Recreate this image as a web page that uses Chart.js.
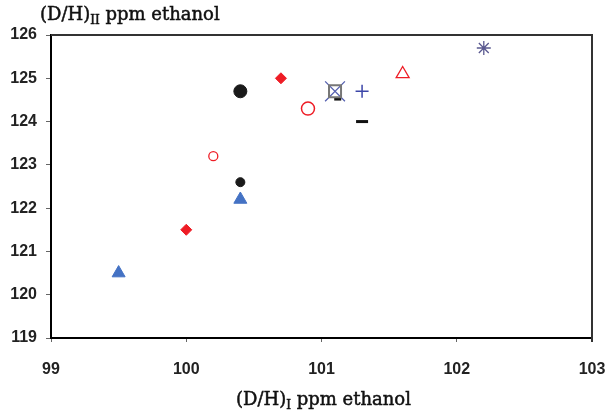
<!DOCTYPE html>
<html>
<head>
<meta charset="utf-8">
<script src="https://cdn.jsdelivr.net/npm/chart.js@4"></script>
<style>
  html, body { margin: 0; padding: 0; background: #fff; }
  #wrap { width: 611px; height: 418px; }
</style>
</head>
<body>
<div id="wrap"><canvas id="dhChart" width="611" height="418"></canvas></div>
<script>
// (D/H)I on x, (D/H)II on y -- one small pair of arrays per marker type
const blueTriX = [99.5, 100.4];
const blueTriY = [120.5, 122.2];
const redDiamondX = [100.0, 100.7];
const redDiamondY = [121.5, 125.0];
const blackDotSmallX = [100.4];
const blackDotSmallY = [122.6];
const blackDotBigX = [100.4];
const blackDotBigY = [124.7];
const redRingSmallX = [100.2];
const redRingSmallY = [123.2];
const redRingBigX = [100.9];
const redRingBigY = [124.3];
const squareX = [101.1];
const squareY = [124.7];
const xCrossX = [101.1];
const xCrossY = [124.7];
const dashSmallX = [101.12];
const dashSmallY = [124.52];
const plusX = [101.3];
const plusY = [124.7];
const dashX = [101.3];
const dashY = [124.0];
const redOpenTriX = [101.6];
const redOpenTriY = [125.1];
const starX = [102.2];
const starY = [125.7];

const xTicks = [99, 100, 101, 102, 103];
const yTicks = [119, 120, 121, 122, 123, 124, 125, 126];

function pts(xs, ys) {
  return xs.map((x, i) => ({ x: x, y: ys[i] }));
}

function series(xs, ys, style, radius, fill, stroke, bw) {
  return {
    data: pts(xs, ys),
    pointStyle: style,
    pointRadius: radius,
    pointHoverRadius: radius,
    backgroundColor: fill,
    borderColor: stroke,
    pointBorderWidth: bw,
    showLine: false,
    clip: false
  };
}

// axis titles with subscripts, and the top/right frame lines
const extras = {
  id: 'extras',
  afterDraw(chart) {
    const ctx = chart.ctx;
    const a = chart.chartArea;
    ctx.save();
    ctx.strokeStyle = '#333';
    ctx.lineWidth = 2;
    ctx.beginPath();
    ctx.moveTo(a.left, a.top);
    ctx.lineTo(a.right, a.top);
    ctx.lineTo(a.right, a.bottom + 4);
    ctx.stroke();

    ctx.fillStyle = '#111';
    ctx.strokeStyle = '#111';
    ctx.lineWidth = 0.5;
    ctx.textBaseline = 'alphabetic';
    const big = '18px "DejaVu Serif", serif';
    const small = '12px "DejaVu Serif", serif';

    function label(parts, x, y, center) {
      let w = 0;
      parts.forEach(p => { ctx.font = p[1] ? small : big; w += ctx.measureText(p[0]).width; });
      let cx = center ? x - w / 2 : x;
      parts.forEach(p => {
        ctx.font = p[1] ? small : big;
        ctx.fillText(p[0], cx, y + (p[1] ? 4 : 0));
        ctx.strokeText(p[0], cx, y + (p[1] ? 4 : 0));
        cx += ctx.measureText(p[0]).width;
      });
    }
    label([['(D/H)', false], ['II', true], [' ppm ethanol', false]], 40, 20, false);
    label([['(D/H)', false], ['I', true], [' ppm ethanol', false]], (a.left + a.right) / 2 + 2, a.bottom + 67, true);
    ctx.restore();
  }
};

const tickFont = { family: '"Liberation Sans", sans-serif', size: 16, weight: 'bold' };

new Chart(document.getElementById('dhChart'), {
  type: 'scatter',
  data: {
    datasets: [
      series(blueTriX, blueTriY, 'triangle', 7.5, '#4472C4', '#4472C4', 1),
      series(redDiamondX, redDiamondY, 'rectRot', 5.5, '#EE1C25', '#EE1C25', 1),
      series(blackDotSmallX, blackDotSmallY, 'circle', 4.5, '#1a1a1a', '#1a1a1a', 1),
      series(blackDotBigX, blackDotBigY, 'circle', 6.5, '#1a1a1a', '#1a1a1a', 1),
      series(redRingSmallX, redRingSmallY, 'circle', 4.5, 'rgba(0,0,0,0)', '#EE1C25', 1.3),
      series(redRingBigX, redRingBigY, 'circle', 6.5, 'rgba(0,0,0,0)', '#EE1C25', 1.5),
      series(squareX, squareY, 'rect', 8.5, 'rgba(0,0,0,0)', '#777', 2),
      series(xCrossX, xCrossY, 'crossRot', 14, '#5560B0', '#5560B0', 1.3),
      series(dashSmallX, dashSmallY, 'line', 3.5, '#111', '#111', 3),
      series(plusX, plusY, 'cross', 6.5, '#3C46A8', '#3C46A8', 1.5),
      series(dashX, dashY, 'line', 6, '#111', '#111', 3),
      series(redOpenTriX, redOpenTriY, 'triangle', 7.5, 'rgba(0,0,0,0)', '#EE1C25', 1.3),
      series(starX, starY, 'star', 7, '#5a5990', '#5a5990', 1.3)
    ]
  },
  options: {
    responsive: false,
    animation: false,
    layout: { padding: { top: 35, right: 19, left: 0, bottom: 0 } },
    plugins: { legend: { display: false }, tooltip: { enabled: false } },
    scales: {
      x: {
        type: 'linear',
        min: xTicks[0],
        max: xTicks[xTicks.length - 1],
        afterBuildTicks: s => { s.ticks = xTicks.map(v => ({ value: v })); },
        afterFit: s => { s.height = 80; s.paddingLeft = 0; s.paddingRight = 0; },
        grid: { drawOnChartArea: false, drawTicks: true, tickLength: 4, color: '#666' },
        border: { color: '#000', width: 2 },
        ticks: { color: '#222', font: tickFont, padding: 18, maxRotation: 0 }
      },
      y: {
        type: 'linear',
        min: yTicks[0],
        max: yTicks[yTicks.length - 1],
        afterBuildTicks: s => { s.ticks = yTicks.map(v => ({ value: v })); },
        afterFit: s => { s.width = 51; s.paddingTop = 0; s.paddingBottom = 0; },
        grid: { drawOnChartArea: false, drawTicks: true, tickLength: 5, color: '#666' },
        border: { color: '#000', width: 2 },
        ticks: { color: '#222', font: tickFont, padding: 9 }
      }
    }
  },
  plugins: [extras]
});
</script>
</body>
</html>
